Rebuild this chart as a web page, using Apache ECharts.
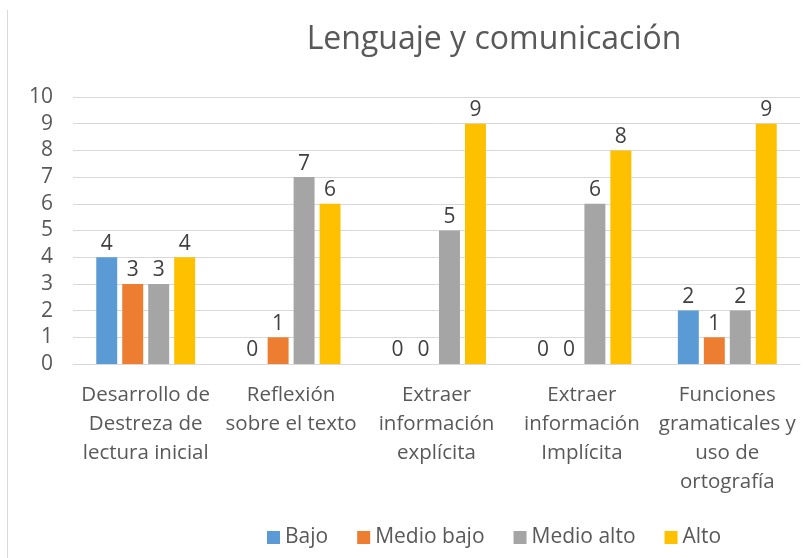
<!DOCTYPE html>
<html>
<head>
<meta charset="utf-8">
<script src="https://cdn.jsdelivr.net/npm/echarts@6/dist/echarts.min.js"></script>
<style>
  html, body { margin: 0; padding: 0; background: #ffffff; }
  #chart { width: 804px; height: 558px; }
</style>
</head>
<body>
<div id="chart"></div>
<script>
// Areas evaluated
const categories = [
  'Desarrollo de\nDestreza de\nlectura inicial',
  'Reflexión\nsobre el texto',
  'Extraer\ninformación\nexplícita',
  'Extraer\ninformación\nImplícita',
  'Funciones\ngramaticales y\nuso de\nortografía'
];

// Counts per performance level
const bajo = [4, 0, 0, 0, 2];
const medioBajo = [3, 1, 0, 0, 1];
const medioAlto = [3, 7, 5, 6, 2];
const alto = [4, 6, 9, 8, 9];

const yTicks = { min: 0, max: 10, interval: 1 };

const seriesNames = ['Bajo', 'Medio bajo', 'Medio alto', 'Alto'];
const seriesData = [bajo, medioBajo, medioAlto, alto];
const colors = ['#5b9bd5', '#ed7d31', '#a5a5a5', '#ffc000'];

const FONT = 'Open Sans';
const chart = echarts.init(document.getElementById('chart'));

chart.setOption({
  backgroundColor: '#ffffff',
  textStyle: { fontFamily: FONT },
  title: {
    text: 'Lenguaje y comunicación',
    left: 489, top: 19,
    textAlign: 'center',
    textStyle: { fontFamily: FONT, fontSize: 32, fontWeight: 'normal', color: '#595959' }
  },
  legend: {
    data: seriesNames,
    bottom: 5,
    left: 262,
    itemWidth: 13, itemHeight: 13, itemGap: 29, itemStyle: { borderWidth: 0 },
    icon: 'rect',
    textStyle: { fontFamily: FONT, fontSize: 21, color: '#595959' }
  },
  grid: { left: 73, right: 4, top: 97, bottom: 194 },
  xAxis: {
    type: 'category',
    data: categories,
    axisLine: { lineStyle: { color: '#d9d9d9', width: 1 } },
    axisTick: { show: false },
    axisLabel: { color: '#595959', fontSize: 20.5, fontFamily: FONT, lineHeight: 29, margin: 17, interval: 0 }
  },
  yAxis: {
    type: 'value',
    min: yTicks.min, max: yTicks.max, interval: yTicks.interval,
    axisLine: { show: false },
    axisTick: { show: false },
    splitLine: { lineStyle: { color: '#d9d9d9', width: 1 } },
    axisLabel: { color: '#595959', fontSize: 21, fontFamily: FONT, margin: 20 }
  },
  graphic: [{
    type: 'line',
    shape: { x1: 7.5, y1: 10, x2: 7.5, y2: 558 },
    style: { stroke: '#d9d9d9', lineWidth: 1 }
  }],
  series: seriesNames.map((name, i) => ({
    name,
    type: 'bar',
    data: seriesData[i],
    barGap: '24%',
    barCategoryGap: '32%',
    itemStyle: { color: colors[i] },
    label: {
      show: true, position: 'top', distance: 3,
      fontFamily: FONT, fontSize: 21, color: '#404040'
    }
  }))
});
</script>
</body>
</html>
